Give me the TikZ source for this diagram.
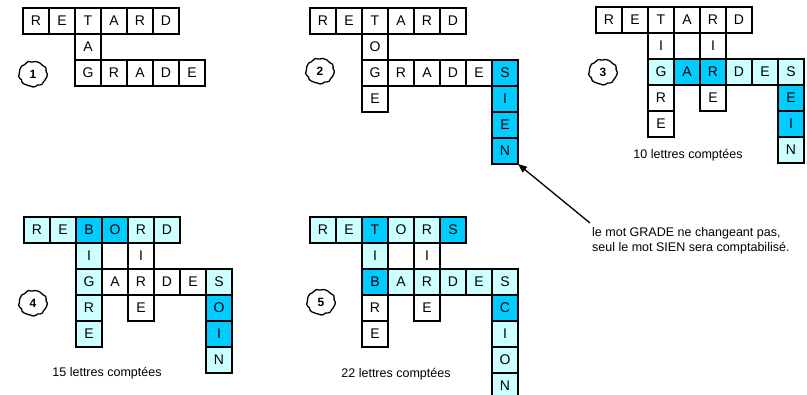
\documentclass[tikz,border=0pt]{standalone}
\usepackage{fontspec}
\setmainfont{Liberation Sans}
\usetikzlibrary{arrows.meta}
\definecolor{bcyan}{RGB}{0,204,255}
\definecolor{lcyan}{RGB}{204,255,255}
\tikzset{
  cellbox/.style={draw=black, line width=2.8pt, minimum width=26pt, minimum height=26pt,
    inner sep=0pt, outer sep=0pt, font=\fontsize{14}{14}\selectfont},
  captiontext/.style={font=\fontsize{12.5}{15}\selectfont, inner sep=0pt},
  numlabel/.style={font=\fontsize{12}{12}\selectfont\bfseries, inner sep=0pt},
  wobble/.style={line width=1.3pt},
  gridunits/.style={x=26pt, y=-26pt}
}
\newcommand\cel[5][white]{\node[cellbox, fill=#1] (#2) at ({#3+0.5},{#4+0.5}) {#5};}
\newcommand\wobcircle[1]{\draw[wobble, shift={(#1.center)}] plot[smooth cycle, domain=0:350, samples=36]
  ({(14+0.45*sin(9*\x)+0.3*cos(13*\x))*cos(\x)}, {(12.5+0.45*sin(9*\x)+0.3*cos(13*\x))*sin(\x)});}
\begin{document}
\begin{tikzpicture}[x=1pt, y=-1pt]
\useasboundingbox[fill=white] (0,0) rectangle (807,395);

% ---------- Grid 1 ----------
\begin{scope}[shift={(23pt,-8pt)}, gridunits]
\cel{a00}{0}{0}{R}\cel{a10}{1}{0}{E}\cel{a20}{2}{0}{T}\cel{a30}{3}{0}{A}\cel{a40}{4}{0}{R}\cel{a50}{5}{0}{D}
\cel{a21}{2}{1}{A}
\cel{a22}{2}{2}{G}\cel{a32}{3}{2}{R}\cel{a42}{4}{2}{A}\cel{a52}{5}{2}{D}\cel{a62}{6}{2}{E}
\end{scope}
\node[numlabel] (n1) at (33,74) {1};
\wobcircle{n1}

% ---------- Grid 2 ----------
\begin{scope}[shift={(310pt,-8pt)}, gridunits]
\cel{b00}{0}{0}{R}\cel{b10}{1}{0}{E}\cel{b20}{2}{0}{T}\cel{b30}{3}{0}{A}\cel{b40}{4}{0}{R}\cel{b50}{5}{0}{D}
\cel{b21}{2}{1}{O}
\cel{b22}{2}{2}{G}\cel{b32}{3}{2}{R}\cel{b42}{4}{2}{A}\cel{b52}{5}{2}{D}\cel{b62}{6}{2}{E}
\cel[bcyan]{b72}{7}{2}{S}
\cel{b23}{2}{3}{E}
\cel[bcyan]{b73}{7}{3}{I}
\cel[bcyan]{b74}{7}{4}{E}
\cel[bcyan]{b75}{7}{5}{N}
\end{scope}
\node[numlabel] (n2) at (320,71) {2};
\wobcircle{n2}

% ---------- Grid 3 ----------
\begin{scope}[shift={(596pt,-7pt)}, gridunits]
\cel{c00}{0}{0}{R}\cel{c10}{1}{0}{E}\cel{c20}{2}{0}{T}\cel{c30}{3}{0}{A}\cel{c40}{4}{0}{R}\cel{c50}{5}{0}{D}
\cel{c21}{2}{1}{I}\cel{c41}{4}{1}{I}
\cel[lcyan]{c22}{2}{2}{G}\cel[bcyan]{c32}{3}{2}{A}\cel[bcyan]{c42}{4}{2}{R}\cel[lcyan]{c52}{5}{2}{D}\cel[lcyan]{c62}{6}{2}{E}\cel[lcyan]{c72}{7}{2}{S}
\cel{c23}{2}{3}{R}\cel{c43}{4}{3}{E}\cel[bcyan]{c73}{7}{3}{E}
\cel{c24}{2}{4}{E}\cel[bcyan]{c74}{7}{4}{I}
\cel[lcyan]{c75}{7}{5}{N}
\end{scope}
\node[numlabel] (n3) at (603,72) {3};
\wobcircle{n3}
\node[captiontext] (t3) at (688,155) {10 lettres comptées};

% ---------- Grid 4 ----------
\begin{scope}[shift={(24pt,-217pt)}, gridunits]
\cel[lcyan]{d00}{0}{0}{R}\cel[lcyan]{d10}{1}{0}{E}\cel[bcyan]{d20}{2}{0}{B}\cel[bcyan]{d30}{3}{0}{O}\cel[lcyan]{d40}{4}{0}{R}\cel[lcyan]{d50}{5}{0}{D}
\cel[lcyan]{d21}{2}{1}{I}\cel{d41}{4}{1}{I}
\cel[lcyan]{d22}{2}{2}{G}\cel{d32}{3}{2}{A}\cel{d42}{4}{2}{R}\cel{d52}{5}{2}{D}\cel{d62}{6}{2}{E}\cel[lcyan]{d72}{7}{2}{S}
\cel[lcyan]{d23}{2}{3}{R}\cel{d43}{4}{3}{E}\cel[bcyan]{d73}{7}{3}{O}
\cel[lcyan]{d24}{2}{4}{E}\cel[bcyan]{d74}{7}{4}{I}
\cel[lcyan]{d75}{7}{5}{N}
\end{scope}
\node[numlabel] (n4) at (33,303) {4};
\wobcircle{n4}
\node[captiontext] (t4) at (107,373) {15 lettres comptées};

% ---------- Grid 5 ----------
\begin{scope}[shift={(310pt,-217pt)}, gridunits]
\cel[lcyan]{e00}{0}{0}{R}\cel[lcyan]{e10}{1}{0}{E}\cel[bcyan]{e20}{2}{0}{T}\cel[lcyan]{e30}{3}{0}{O}\cel[lcyan]{e40}{4}{0}{R}\cel[bcyan]{e50}{5}{0}{S}
\cel[lcyan]{e21}{2}{1}{I}\cel{e41}{4}{1}{I}
\cel[bcyan]{e22}{2}{2}{B}\cel[lcyan]{e32}{3}{2}{A}\cel[lcyan]{e42}{4}{2}{R}\cel[lcyan]{e52}{5}{2}{D}\cel[lcyan]{e62}{6}{2}{E}\cel[lcyan]{e72}{7}{2}{S}
\cel{e23}{2}{3}{R}\cel{e43}{4}{3}{E}\cel[bcyan]{e73}{7}{3}{C}
\cel{e24}{2}{4}{E}\cel[lcyan]{e74}{7}{4}{I}
\cel[lcyan]{e75}{7}{5}{O}
\cel[lcyan]{e76}{7}{6}{N}
\end{scope}
\node[numlabel] (n5) at (321,302) {5};
\wobcircle{n5}
\node[captiontext] (t5) at (396,374) {22 lettres comptées};

% ---------- Note and arrow ----------
\node[captiontext, anchor=north west, align=left] (note) at (592,227)
  {le mot GRADE ne changeant pas,\\seul le mot SIEN sera comptabilisé.};
\draw[line width=1.3pt, -{Triangle[length=9pt, width=7pt]}] ([xshift=-2pt, yshift=4pt]note.north west) -- (b75.south east);
\end{tikzpicture}
\end{document}
